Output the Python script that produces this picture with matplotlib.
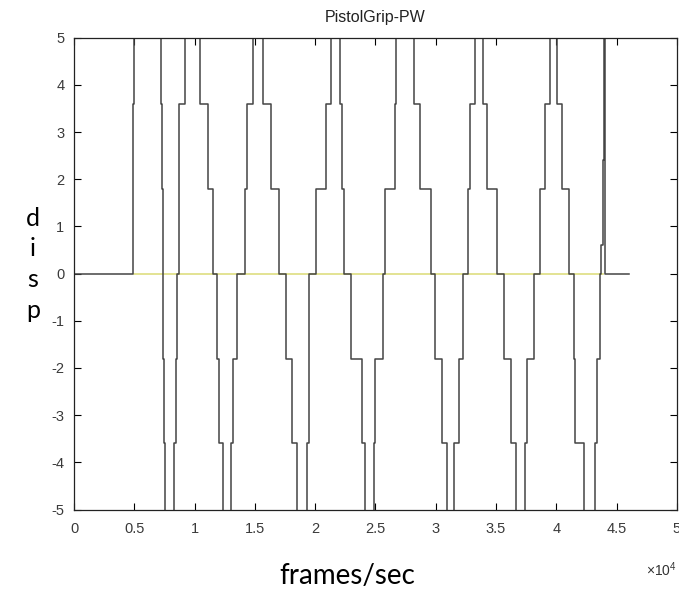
import matplotlib
matplotlib.use('Agg')
import matplotlib.pyplot as plt

# step breakpoints (frames) and the level held from each one
frames = [0, 4920, 5000, 7190, 7300, 7360, 7410, 7500, 7580, 8300, 8420, 8550, 8720, 9180,
          10460, 11150, 11500, 11840, 12050, 12360, 13040, 13170, 13500, 14190, 14330, 14880,
          15710, 16300, 17020, 17550, 18060, 18500, 19360, 19520, 20080, 20910, 21300,
          22070, 22210, 22430, 22950, 23850, 24120, 24850, 24950, 25600, 25780, 26600, 26720,
          28160, 28720, 29570, 29900, 30510, 30950, 31550, 31930, 32280, 32640, 32810, 33280,
          33900, 34280, 35080, 35630, 36240, 36680, 37430, 37570, 38120, 38670, 39090, 39450,
          40080, 40490, 41050, 41450, 41550, 42270, 43200, 43380, 43600, 43710, 43850, 43930,
          44050, 46000]
disp = [0, 3.6, 5.4, 3.6, 1.8, 0, -1.8, -3.6, -5.4, -3.6, -1.8, 0, 3.6, 5.4,
        3.6, 1.8, 0, -1.8, -3.6, -5.4, -3.6, -1.8, 0, 1.8, 3.6, 5.4,
        3.6, 1.8, 0, -1.8, -3.6, -5.4, -3.6, 0, 1.8, 3.6, 5.4,
        3.6, 1.8, 0, -1.8, -3.6, -5.4, -3.6, -1.8, 0, 1.8, 3.6, 5.4,
        3.6, 1.8, 0, -1.8, -3.6, -5.4, -3.6, -1.8, 0, 1.8, 3.6, 5.4,
        3.6, 1.8, 0, -1.8, -3.6, -5.4, -3.6, -1.8, 0, 1.8, 3.6, 5.4,
        3.6, 1.8, 0, -1.8, -3.6, -5.4, -3.6, -1.8, 0, 0.6, 2.4, 5.4,
        0, 0]

# second series: flat yellow trace
ref_frames = [5000, 43900]
ref_disp = [0, 0]

xticks = [0, 5000, 10000, 15000, 20000, 25000, 30000, 35000, 40000, 45000, 50000]
xtick_labels = ['0', '0.5', '1', '1.5', '2', '2.5', '3', '3.5', '4', '4.5', '5']
yticks = [-5, -4, -3, -2, -1, 0, 1, 2, 3, 4, 5]

plt.rcParams['font.family'] = ['Liberation Sans', 'DejaVu Sans']
plt.rcParams['axes.unicode_minus'] = False
plt.rcParams['mathtext.fontset'] = 'custom'
plt.rcParams['mathtext.rm'] = 'Liberation Sans'

fig = plt.figure(figsize=(6.79, 5.90), dpi=100)
ax = fig.add_axes([0.109, 0.1364, 0.888, 0.7998])

ax.plot(ref_frames, ref_disp, color='#dede80', lw=1.2)
ax.plot(frames, disp, color='#444444', lw=1.1, drawstyle='steps-post')

ax.set_xlim(0, 50000)
ax.set_ylim(-5, 5)
ax.set_xticks(xticks)
ax.set_xticklabels(xtick_labels)
ax.set_yticks(yticks)
ax.tick_params(direction='in', length=5, width=0.8, top=True, right=True,
               labelsize=10.5, labelcolor='#3a3a3a', pad=9)
ax.tick_params(axis='y', pad=7)
for sp in ax.spines.values():
    sp.set_color('#222222')
    sp.set_linewidth(0.9)

ax.set_title('PistolGrip-PW', fontsize=11.5, color='#222222', pad=11)

ax.set_xlabel('frames/sec', fontsize=20, family=['Lato', 'DejaVu Sans'], va='center')
ax.xaxis.set_label_coords(0.453, -0.141)
ax.set_ylabel('d\ni\ns\np', fontsize=18, family=['Lato', 'DejaVu Sans'],
              rotation=0, va='center', ha='center', linespacing=1.4)
ax.yaxis.set_label_coords(-0.068, 0.52)

ax.text(1.0, -0.128, r'$\times10^{4}$', transform=ax.transAxes, ha='right', va='center',
        fontsize=10, color='#333333')

plt.savefig('out.png', dpi=100)
